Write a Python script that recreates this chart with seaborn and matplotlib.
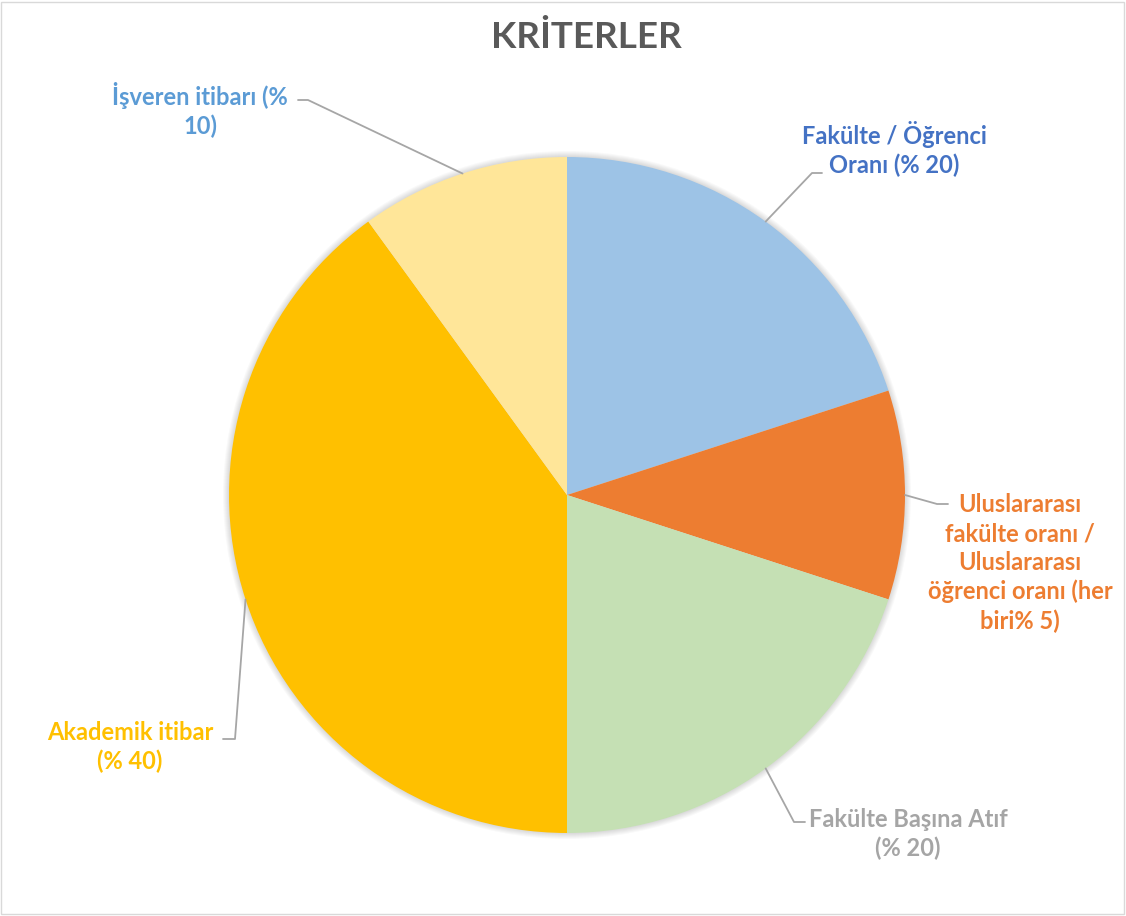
import numpy as np
import matplotlib
matplotlib.use("Agg")
import matplotlib.pyplot as plt
import seaborn as sns
from matplotlib.patches import Rectangle, Circle

# Veriler
kriterler = [
    "Fakülte / Öğrenci\nOranı (% 20)",
    "Uluslararası\nfakülte oranı /\nUluslararası\nöğrenci oranı (her\nbiri% 5)",
    "Fakülte Başına Atıf\n(% 20)",
    "Akademik itibar\n(% 40)",
    "İşveren itibarı (%\n10)",
]
oranlar = [20, 10, 20, 40, 10]
dilim_renkleri = ["#9DC3E6", "#ED7D31", "#C5E0B4", "#FFC000", "#FFE699"]
etiket_renkleri = ["#4472C4", "#ED7D31", "#A5A5A5", "#FFC000", "#5B9BD5"]

sns.set_theme(style="white")
plt.rcParams["font.family"] = ["Lato", "DejaVu Sans"]

W, H = 1126, 916
fig = plt.figure(figsize=(W / 100, H / 100), dpi=100)
ax = fig.add_axes([0, 0, 1, 1])

merkez = (567, H - 495)
yaricap = 338

# hafif gölge
for k in range(1, 7):
    ax.add_patch(Circle(merkez, yaricap + k, color="black", alpha=0.025, lw=0, zorder=0))

dilimler, _ = ax.pie(oranlar, colors=dilim_renkleri, startangle=90, counterclock=False,
                     center=merkez, radius=yaricap,
                     wedgeprops=dict(linewidth=0, antialiased=True))
ax.set_xlim(0, W)
ax.set_ylim(0, H)
ax.set_aspect("equal")
ax.axis("off")

# Etiket yerleşimi (piksel, üstten)
etiket_yeri = [(894, 149), (1020, 563), (908, 834), (130, 747), (200, 110)]
kirilma = [[(812, 173), (822, 173)],
           [(937, 504), (948, 504)],
           [(794, 822), (805, 822)],
           [(235, 739), (223, 739)],
           [(308, 100), (298, 100)]]

for dilim, metin, renk, (tx, ty), kir in zip(dilimler, kriterler, etiket_renkleri, etiket_yeri, kirilma):
    orta = np.deg2rad((dilim.theta1 + dilim.theta2) / 2)
    x0 = merkez[0] + yaricap * np.cos(orta)
    y0 = merkez[1] + yaricap * np.sin(orta)
    xs = [x0] + [p[0] for p in kir]
    ys = [y0] + [H - p[1] for p in kir]
    ax.plot(xs, ys, color="#A6A6A6", lw=1.3, zorder=1)
    ax.text(tx, H - ty, metin, ha="center", va="center", color=renk,
            fontsize=17, fontweight="bold", linespacing=1.3)

ax.text(586, H - 38, "KRİTERLER", ha="center", va="center", color="#595959",
        fontsize=26.5, fontweight="bold")

ax.add_patch(Rectangle((1, 2), W - 3, H - 4, fill=False, edgecolor="#D9D9D9",
                       lw=1, clip_on=False))

fig.savefig("out.png", dpi=100, facecolor="white")
